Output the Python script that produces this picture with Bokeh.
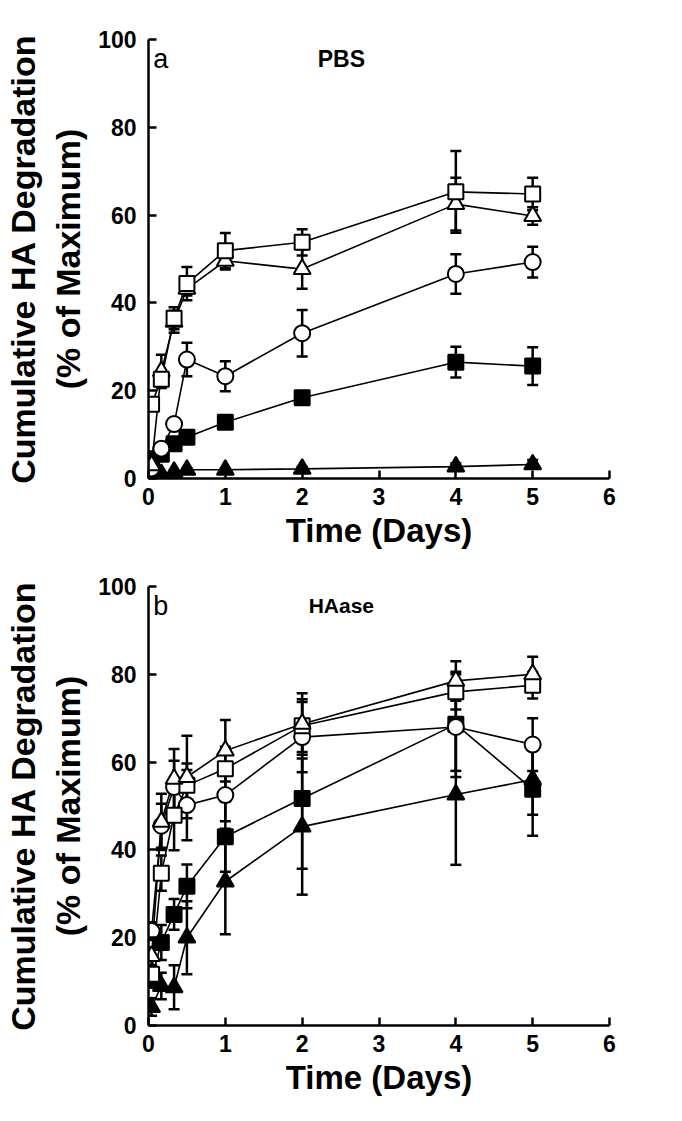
from bokeh.plotting import figure
from bokeh.models import Whisker, TeeHead, ColumnDataSource, Range1d, Label, FixedTicker
from bokeh.layouts import column
from bokeh.embed import file_html
from bokeh.resources import INLINE

# ---------------- data ----------------
time_days = [0.04, 0.167, 0.333, 0.5, 1, 2, 4, 5]
x_ticks = [0, 1, 2, 3, 4, 5, 6]
y_ticks = [0, 20, 40, 60, 80, 100]

# Panel a: PBS
a_open_sq = [16.9, 22.6, 36.5, 44.4, 51.9, 53.8, 65.3, 64.8]
a_open_sq_err = [1.0, 1.5, 2.5, 3.8, 4.0, 3.0, 9.3, 3.7]
a_open_tri = [3.0, 24.4, 35.7, 43.2, 49.6, 47.7, 62.5, 59.8]
a_open_tri_err = [1.0, 3.8, 2.5, 1.5, 2.0, 4.5, 6.0, 2.0]
a_open_circ = [2.3, 6.8, 12.4, 27.1, 23.3, 33.1, 46.6, 49.3]
a_open_circ_err = [0.5, 1.0, 1.0, 3.8, 3.4, 5.3, 4.5, 3.5]
a_fill_sq = [4.5, 5.5, 7.9, 9.4, 12.8, 18.4, 26.5, 25.6]
a_fill_sq_err = [0.5, 0.5, 1.0, 1.0, 1.0, 1.0, 3.5, 4.3]
a_fill_tri = [1.0, 1.0, 1.5, 2.0, 2.0, 2.2, 2.7, 3.2]
a_fill_tri_err = [0.3, 0.3, 0.3, 0.3, 0.3, 0.5, 0.8, 1.0]

# Panel b: HAase
b_open_tri = [15.8, 46.4, 56.2, 56.6, 62.6, 68.7, 78.5, 80.0]
b_open_tri_err = [2.0, 6.4, 6.8, 9.4, 7.0, 7.0, 4.5, 4.0]
b_open_sq = [11.7, 34.7, 47.9, 54.7, 58.5, 68.3, 76.0, 77.5]
b_open_sq_err = [2.0, 4.0, 8.0, 5.0, 5.0, 6.0, 4.0, 3.0]
b_open_circ = [21.5, 45.5, 54.3, 50.2, 52.5, 65.7, 68.0, 64.0]
b_open_circ_err = [2.0, 5.0, 6.0, 8.0, 6.0, 8.0, 10.0, 6.0]
b_fill_sq = [10.6, 18.9, 25.3, 31.7, 43.0, 51.7, 68.6, 53.8]
b_fill_sq_err = [2.0, 4.0, 3.5, 5.0, 8.0, 16.0, 12.0, 10.6]
b_fill_tri = [4.2, 9.0, 8.7, 20.0, 32.8, 45.3, 52.6, 56.0]
b_fill_tri_err = [2.0, 3.0, 5.0, 8.3, 12.0, 15.5, 16.0, 8.0]

FONT = "Liberation Sans"


def make_panel(letter, title, title_size, series, top_border):
    p = figure(frame_width=461, frame_height=439,
               x_range=Range1d(0, 6), y_range=Range1d(0, 100),
               output_backend="svg", toolbar_location=None,
               min_border_left=134, min_border_right=40,
               min_border_top=top_border, min_border_bottom=80)
    p.outline_line_color = None
    p.xgrid.visible = False
    p.ygrid.visible = False
    p.background_fill_color = "white"

    p.xaxis.ticker = FixedTicker(ticks=x_ticks)
    p.yaxis.ticker = FixedTicker(ticks=y_ticks)
    for ax in (p.xaxis[0], p.yaxis[0]):
        ax.axis_line_width = 2.5
        ax.axis_line_color = "black"
        ax.major_tick_line_width = 2.5
        ax.major_tick_line_color = "black"
        ax.major_tick_in = 8
        ax.major_tick_out = 0
        ax.minor_tick_line_color = None
        ax.major_label_text_font = FONT
        ax.major_label_text_font_style = "bold"
        ax.major_label_text_font_size = "23px"
        ax.major_label_text_color = "black"
        ax.axis_label_text_font = FONT
        ax.axis_label_text_font_style = "bold"
        ax.axis_label_text_color = "black"
    p.xaxis.axis_label_text_font_size = "33px"
    p.yaxis.axis_label_text_font_size = "34px"
    p.xaxis.major_label_standoff = 9
    p.yaxis.major_label_standoff = 12
    p.xaxis.axis_label = "Time (Days)"
    p.xaxis.axis_label_standoff = 4
    p.yaxis.axis_label = "Cumulative HA Degradation\n(% of Maximum)"
    p.yaxis.axis_label_standoff = 8

    # connecting lines
    for ys, err, marker, fill in series:
        p.line(time_days, ys, line_color="black", line_width=1.6)
    # error bars
    for ys, err, marker, fill in series:
        src = ColumnDataSource(dict(x=time_days,
                                    up=[v + e for v, e in zip(ys, err)],
                                    lo=[v - e for v, e in zip(ys, err)]))
        w = Whisker(base="x", upper="up", lower="lo", source=src,
                    line_color="black", line_width=2.5,
                    upper_head=TeeHead(size=11, line_width=2.5, line_color="black"),
                    lower_head=TeeHead(size=11, line_width=2.5, line_color="black"))
        p.add_layout(w)
    # markers
    for ys, err, marker, fill in series:
        size = {"square": 15, "circle": 16, "triangle": 17}[marker]
        p.scatter(time_days, ys, marker=marker, size=size,
                  fill_color=fill, line_color="black", line_width=2)

    p.add_layout(Label(x=0.16, y=95.6, text=letter, text_font=FONT,
                       text_font_size="27px", text_align="center",
                       text_baseline="middle", text_color="black"))
    p.add_layout(Label(x=2.51, y=95.6, text=title, text_font=FONT,
                       text_font_style="bold", text_font_size=title_size,
                       text_align="center", text_baseline="middle",
                       text_color="black"))
    return p


series_a = [
    (a_fill_tri, a_fill_tri_err, "triangle", "black"),
    (a_fill_sq, a_fill_sq_err, "square", "black"),
    (a_open_circ, a_open_circ_err, "circle", "white"),
    (a_open_tri, a_open_tri_err, "triangle", "white"),
    (a_open_sq, a_open_sq_err, "square", "white"),
]
series_b = [
    (b_fill_tri, b_fill_tri_err, "triangle", "black"),
    (b_fill_sq, b_fill_sq_err, "square", "black"),
    (b_open_circ, b_open_circ_err, "circle", "white"),
    (b_open_sq, b_open_sq_err, "square", "white"),
    (b_open_tri, b_open_tri_err, "triangle", "white"),
]

pa = make_panel("a", "PBS", "23px", series_a, 39)
pb = make_panel("b", "HAase", "21px", series_b, 28)

layout = column(pa, pb, spacing=0)
open("out.html", "w").write(file_html(layout, INLINE))
